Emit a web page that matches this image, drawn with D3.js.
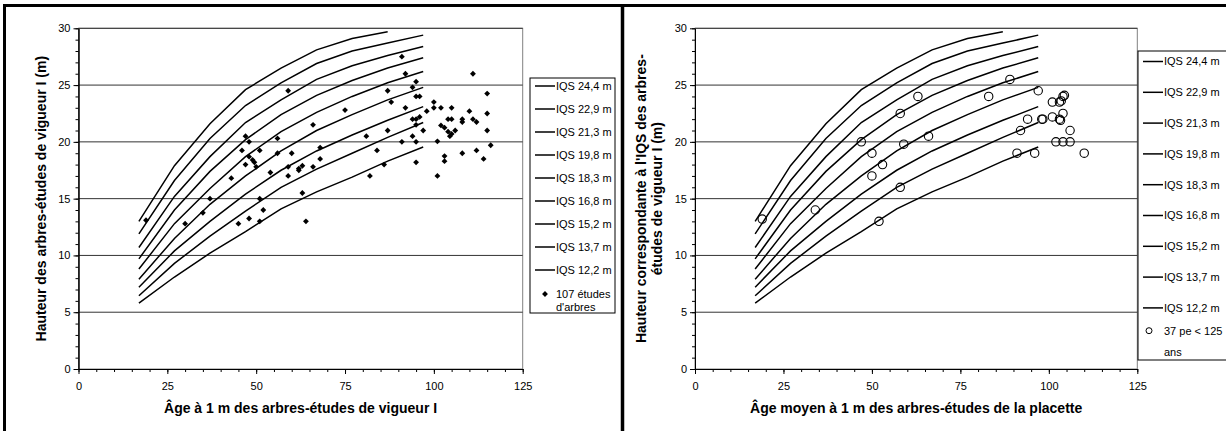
<!DOCTYPE html>
<html>
<head>
<meta charset="utf-8">
<script src="https://cdn.jsdelivr.net/npm/d3@7"></script>
<style>
  body { margin: 0; background: #fff; }
  text { font-family: "Liberation Sans", Arial, sans-serif; fill: #000; }
</style>
</head>
<body>
<div id="chart"></div>
<script>

// ages (1 m) of the site index curve points
var curveAges = [17, 27, 37, 47, 57, 67, 77, 87, 97];

// heights (m) of each IQS curve
var iqs244 = [13.0, 17.9, 21.6, 24.6, 26.5, 28.1, 29.1, 29.7];
var iqs229 = [11.9, 16.6, 20.3, 23.2, 25.2, 26.9, 28.0, 28.7, 29.4];
var iqs213 = [10.7, 15.2, 18.7, 21.7, 23.7, 25.5, 26.7, 27.6, 28.4];
var iqs198 = [9.7, 14.0, 17.4, 20.2, 22.4, 24.1, 25.4, 26.5, 27.4];
var iqs183 = [8.8, 12.8, 15.9, 18.7, 20.9, 22.6, 24.0, 25.2, 26.2];
var iqs168 = [7.9, 11.5, 14.5, 17.0, 19.2, 21.0, 22.4, 23.7, 24.8];
var iqs152 = [7.2, 10.4, 13.0, 15.4, 17.5, 19.2, 20.6, 21.9, 23.1];
var iqs137 = [6.45, 9.3, 11.7, 13.9, 16.0, 17.6, 19.0, 20.4, 21.7];
var iqs122 = [5.8, 8.1, 10.2, 12.1, 14.1, 15.6, 16.9, 18.3, 19.55];

var curveLabels = ["IQS 24,4 m", "IQS 22,9 m", "IQS 21,3 m", "IQS 19,8 m", "IQS 18,3 m",
                   "IQS 16,8 m", "IQS 15,2 m", "IQS 13,7 m", "IQS 12,2 m"];
var curveHeights = [iqs244, iqs229, iqs213, iqs198, iqs183, iqs168, iqs152, iqs137, iqs122];

// left panel : 107 etudes d'arbres (age, hauteur)
var treeAge = [19, 30, 35, 37, 43, 45, 48, 51, 52, 51, 47, 48, 46, 48, 49, 49.5, 47, 50, 51, 56, 56, 54, 60, 59, 59, 62, 59,
               91, 92, 95, 94, 95, 96, 87, 88, 75, 66, 92, 94, 95, 96, 95, 87, 81, 91, 94, 95, 84, 86, 82, 95, 68, 68, 66, 63, 62, 63, 64,
               97, 98, 100, 100, 102, 105, 104, 105, 102, 103, 104, 105, 106, 104.5, 101, 108, 108, 110, 111, 112, 111, 115, 115, 115, 116, 108, 112, 114, 103, 103, 101];
var treeHeight = [13.1, 12.8, 13.75, 15, 16.8, 12.8, 13.25, 13, 14, 15, 20.5, 20, 19.25, 18.7, 18.4, 18.2, 18, 17.8, 19.25, 20.3, 19, 17.3, 19, 17.8, 17, 17.5, 24.5,
                  27.5, 26, 25.3, 24.8, 24, 24, 24.5, 23.5, 22.8, 21.5, 23, 22, 22, 22.2, 21.5, 21, 20.5, 20, 20.5, 20, 19.25, 18, 17, 18.2, 19.5, 18.5, 17.8, 17.9, 17.65, 15.5, 13,
                  21, 22.7, 23.5, 23, 23, 23, 22, 22, 21.45, 21.25, 20.9, 20.7, 21, 20.5, 20.05, 22, 21.75, 22.7, 22, 21.75, 26, 24.25, 22.5, 21, 19.7, 19, 19.25, 18.5, 18.75, 18.3, 17];

// right panel : 37 placettes < 125 ans (age moyen, hauteur IQS)
var plotAge = [19, 34, 47, 50, 50, 52, 53, 58, 58, 59, 63, 66, 83, 89, 91, 92, 94, 96, 97, 98, 98.3, 101, 101, 102,
               103, 103.5, 103, 103.3, 104, 104.4, 104, 104, 106, 106, 110];
var plotHeight = [13.2, 14, 20, 19, 17, 13, 18, 22.5, 16, 19.8, 24, 20.5, 24, 25.5, 19, 21, 22, 19, 24.5, 22, 22, 23.5, 22.2, 20,
                  23.5, 23.6, 22, 21.9, 24, 24.1, 22.5, 20, 21, 20, 19];

var yTicks = [0, 5, 10, 15, 20, 25, 30];
var xTicks = [0, 25, 50, 75, 100, 125];

var width = 1226, height = 431;

var svg = d3.select("#chart")
  .append("svg")
    .attr("width", width)
    .attr("height", height);

svg.append("rect").attr("width", width).attr("height", height).attr("fill", "#fff");

function drawPanel(p) {
  var x = d3.scaleLinear().domain([0, 125]).range([p.left, p.right]);
  var y = d3.scaleLinear().domain([0, 30]).range([369, 28.3]);

  var g = svg.append("g");

  // plot area border
  g.append("rect")
    .attr("x", p.left).attr("y", y(30))
    .attr("width", p.right - p.left).attr("height", y(0) - y(30))
    .attr("fill", "none").attr("stroke", "#808080");

  // gridlines
  g.selectAll(".grid")
    .data(yTicks.slice(1))
    .enter().append("line")
      .attr("x1", p.left).attr("x2", p.right)
      .attr("y1", function(d) { return y(d); })
      .attr("y2", function(d) { return y(d); })
      .attr("stroke", "#333")
      .attr("stroke-width", 1);

  // minor ticks
  g.append("g")
    .attr("transform", "translate(" + p.left + ",0)")
    .call(d3.axisLeft(y).tickValues(d3.range(0, 31, 1)).tickSize(3).tickSizeOuter(0).tickFormat(""));
  g.append("g")
    .attr("transform", "translate(0," + y(0) + ")")
    .call(d3.axisBottom(x).tickValues(d3.range(0, 126, 5)).tickSize(3).tickSizeOuter(0).tickFormat(""));

  var yAxis = g.append("g")
    .attr("transform", "translate(" + p.left + ",0)")
    .call(d3.axisLeft(y).tickValues(yTicks).tickSize(5).tickSizeOuter(0).tickPadding(3));
  var xAxis = g.append("g")
    .attr("transform", "translate(0," + y(0) + ")")
    .call(d3.axisBottom(x).tickValues(xTicks).tickSize(5).tickSizeOuter(0).tickPadding(8));

  g.selectAll(".tick text").attr("font-size", "11px").style("font-family", '"Liberation Sans", Arial, sans-serif');
  g.selectAll(".domain, .tick line").attr("stroke", "#000");

  // IQS curves
  var line = d3.line()
    .x(function(d) { return x(d[0]); })
    .y(function(d) { return y(d[1]); });

  curveHeights.forEach(function(hs) {
    var pts = hs.map(function(h, i) { return [curveAges[i], h]; });
    g.append("path")
      .datum(pts)
      .attr("d", line)
      .attr("fill", "none")
      .attr("stroke", "#000")
      .attr("stroke-width", 1.5);
  });

  p.drawPoints(g, x, y);

  // axis titles
  g.append("text")
    .attr("x", (p.left + p.right) / 2)
    .attr("y", 413)
    .attr("text-anchor", "middle")
    .attr("font-size", "14px")
    .attr("font-weight", "bold")
    .text(p.xTitle);

  p.yTitle.forEach(function(t, i) {
    g.append("text")
      .attr("transform", "translate(" + p.yTitleX[i] + "," + (y(0) + y(30)) / 2 + ") rotate(-90)")
      .attr("text-anchor", "middle")
      .attr("dy", "0.35em")
      .attr("font-size", "14px")
      .attr("font-weight", "bold")
      .text(t);
  });

  // legend
  var lg = g.append("g");
  lg.append("rect")
    .attr("x", p.legend.x).attr("y", p.legend.y)
    .attr("width", p.legend.w).attr("height", p.legend.h)
    .attr("fill", "#fff").attr("stroke", "#000");

  curveLabels.forEach(function(label, i) {
    var ly = p.legend.first + i * p.legend.step;
    lg.append("line")
      .attr("x1", p.legend.x + 5).attr("x2", p.legend.x + 25)
      .attr("y1", ly).attr("y2", ly)
      .attr("stroke", "#000").attr("stroke-width", 1.5);
    lg.append("text")
      .attr("x", p.legend.x + 26).attr("y", ly)
      .attr("dy", "0.35em")
      .attr("font-size", "11px")
      .text(label);
  });

  var sy = p.legend.first + 9 * p.legend.step - p.legend.markGap;
  p.legendMark(lg, p.legend.x + 15, sy);
  p.legendText.forEach(function(t, i) {
    lg.append("text")
      .attr("x", p.legend.x + 26).attr("y", sy + i * p.legend.lineH)
      .attr("dy", "0.35em")
      .attr("font-size", "11px")
      .text(t);
  });
}

var diamond = d3.symbol().type(d3.symbolSquare).size(17);

drawPanel({
  left: 78.5, right: 522.7,
  xTitle: "Âge à 1 m des arbres-études de vigueur I",
  yTitle: ["Hauteur des arbres-études de vigueur I (m)"],
  yTitleX: [41],
  legend: { x: 530, y: 78, w: 85, h: 235, first: 86, step: 23, markGap: -1, lineH: 13 },
  legendText: ["107 études", "d'arbres"],
  legendMark: function(lg, cx, cy) {
    lg.append("path").attr("d", diamond)
      .attr("transform", "translate(" + cx + "," + cy + ") rotate(45)")
      .attr("fill", "#000");
  },
  drawPoints: function(g, x, y) {
    g.selectAll(".tree")
      .data(treeAge)
      .enter().append("path")
        .attr("d", diamond)
        .attr("transform", function(d, i) {
          return "translate(" + x(d) + "," + y(treeHeight[i]) + ") rotate(45)";
        })
        .attr("fill", "#000");
  }
});

drawPanel({
  left: 695, right: 1137.3,
  xTitle: "Âge moyen à 1 m des arbres-études de la placette",
  yTitle: ["Hauteur correspondante à l'IQS des arbres-", "études de vigueur I (m)"],
  yTitleX: [641, 657],
  legend: { x: 1138, y: 51, w: 110, h: 309, first: 61.5, step: 30.8, markGap: 8, lineH: 21 },
  legendText: ["37 pe < 125", "ans"],
  legendMark: function(lg, cx, cy) {
    lg.append("circle").attr("cx", cx - 4).attr("cy", cy).attr("r", 3)
      .attr("fill", "none").attr("stroke", "#000");
  },
  drawPoints: function(g, x, y) {
    g.selectAll(".plot")
      .data(plotAge)
      .enter().append("circle")
        .attr("cx", function(d) { return x(d); })
        .attr("cy", function(d, i) { return y(plotHeight[i]); })
        .attr("r", 4.2)
        .attr("fill", "none")
        .attr("stroke", "#000")
        .attr("stroke-width", 1.1);
  }
});

// chart frames
svg.append("line").attr("x1", 3).attr("x2", width).attr("y1", 5.5).attr("y2", 5.5)
  .attr("stroke", "#000").attr("stroke-width", 3);
svg.append("line").attr("x1", 4.5).attr("x2", 4.5).attr("y1", 4).attr("y2", height)
  .attr("stroke", "#000").attr("stroke-width", 3);
svg.append("line").attr("x1", 622.5).attr("x2", 622.5).attr("y1", 4).attr("y2", height)
  .attr("stroke", "#000").attr("stroke-width", 3.5);

</script>
</body>
</html>
